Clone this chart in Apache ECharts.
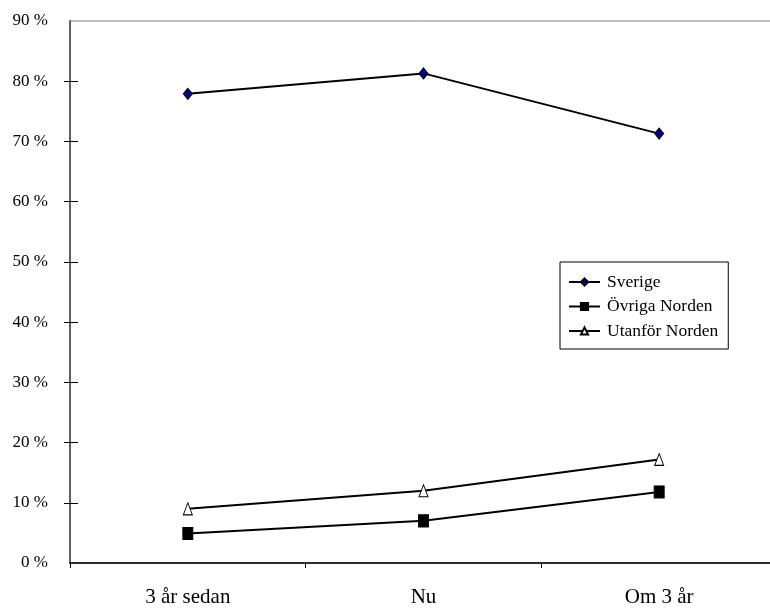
<!DOCTYPE html>
<html>
<head>
<meta charset="utf-8">
<script src="https://cdn.jsdelivr.net/npm/echarts@6/dist/echarts.min.js"></script>
<style>
html,body{margin:0;padding:0;background:#fff;overflow:hidden;}
#chart{width:770px;height:610px;}
</style>
</head>
<body>
<div id="chart"></div>
<script>
const categories = ['3 år sedan', 'Nu', 'Om 3 år'];
const sverige = [77.9, 81.3, 71.3];
const ovrigaNorden = [4.9, 7.0, 11.8];
const utanforNorden = [9.0, 12.0, 17.2];
const seriesNames = ['Sverige', 'Övriga Norden', 'Utanför Norden'];
const yTickMarks = [10, 20, 30, 40, 50, 60, 70, 80];

const font = '"Liberation Serif", "DejaVu Serif", serif';
const chart = echarts.init(document.getElementById('chart'));
chart.setOption({
  animation: false,
  backgroundColor: '#fff',
  grid: {
    left: 70, top: 21, width: 707, bottom: 47,
    outerBoundsMode: 'none',
    containLabel: false,
    show: true, borderColor: '#808080', borderWidth: 1, backgroundColor: 'transparent'
  },
  legend: {
    orient: 'vertical',
    left: 560, top: 262,
    padding: [11, 10, 9, 8],
    itemWidth: 31, itemHeight: 9, itemGap: 6.5,
    borderColor: '#000', borderWidth: 1,
    textStyle: { fontFamily: font, fontSize: 17.5, lineHeight: 17, color: '#000', padding: [0, 0, 0, 2] },
    data: seriesNames
  },
  xAxis: {
    type: 'category',
    data: categories,
    boundaryGap: true,
    axisLine: { lineStyle: { color: '#000', width: 1.5 } },
    axisTick: { show: true, length: 5, lineStyle: { color: '#000' } },
    axisLabel: { fontFamily: font, fontSize: 21, color: '#000', margin: 24 },
    splitLine: { show: false }
  },
  yAxis: [{
    type: 'value',
    min: 0, max: 90, interval: 10,
    axisLine: { show: true, lineStyle: { color: '#606060', width: 2 } },
    axisTick: { show: true, length: 6, customValues: yTickMarks, lineStyle: { color: '#000' } },
    axisLabel: { fontFamily: font, fontSize: 17, color: '#000', margin: 22, formatter: '{value} %' },
    splitLine: { show: false }
  }, {
    type: 'value',
    position: 'left',
    min: 0, max: 90, interval: 10,
    axisLine: { show: false },
    axisTick: { show: true, inside: true, length: 8, customValues: yTickMarks, lineStyle: { color: '#000' } },
    axisLabel: { show: false },
    splitLine: { show: false }
  }],
  series: [{
    name: seriesNames[0], type: 'line', data: sverige,
    symbol: 'diamond', symbolSize: [9, 11],
    lineStyle: { color: '#000', width: 2 },
    itemStyle: { color: '#000080', borderColor: '#000', borderWidth: 1 }
  }, {
    name: seriesNames[1], type: 'line', data: ovrigaNorden,
    symbol: 'rect', symbolSize: [10, 12],
    lineStyle: { color: '#000', width: 2 },
    itemStyle: { color: '#000', borderColor: '#000', borderWidth: 1 }
  }, {
    name: seriesNames[2], type: 'line', data: utanforNorden,
    symbol: 'triangle', symbolSize: [9, 12],
    lineStyle: { color: '#000', width: 2 },
    itemStyle: { color: '#fff', borderColor: '#000', borderWidth: 1 }
  }]
});
</script>
</body>
</html>
